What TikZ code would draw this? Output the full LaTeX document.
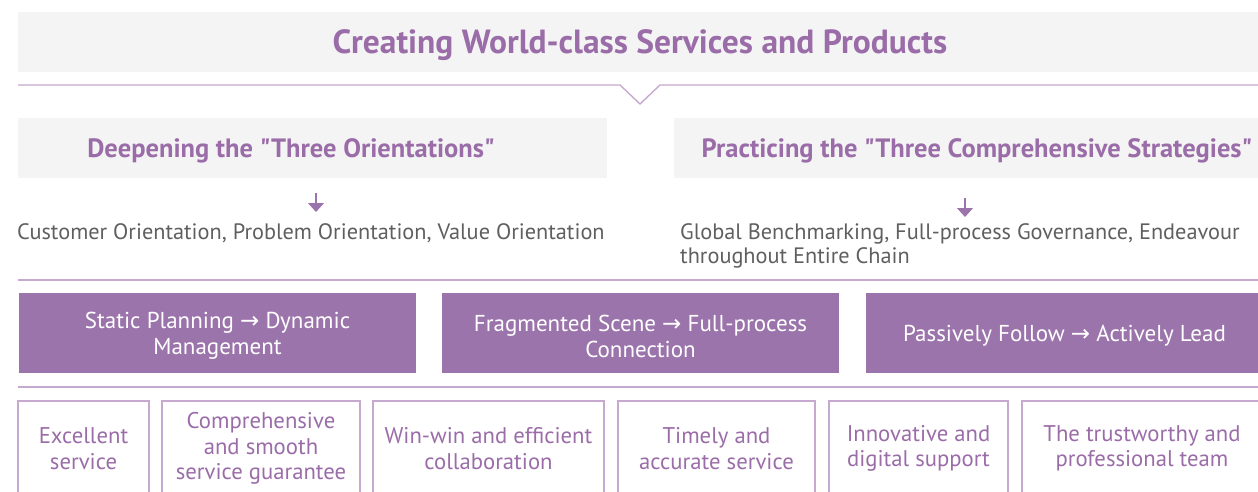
\documentclass[tikz,border=0pt]{standalone}
\usepackage{fontspec}
\setmainfont{PT Sans}[Ligatures=TeXOff]
\newfontfamily\arrowfont{DejaVu Sans}
\usetikzlibrary{arrows.meta}

\definecolor{plum}{HTML}{9B74AB}
\definecolor{plumtext}{HTML}{9A6CA8}
\definecolor{plumline}{HTML}{C6A9CE}
\definecolor{panel}{HTML}{F4F4F4}
\definecolor{bodygray}{HTML}{5F5F5F}

\newcommand{\goesto}{{\arrowfont\char"2192}}

\begin{document}
\begin{tikzpicture}[x=1pt, y=-1pt,
    panelbox/.style={fill=panel, draw=none, inner sep=0pt},
    heading/.style={text=plumtext, font=\fontsize{26.5}{30}\selectfont\bfseries},
    rule/.style={draw=plumline, line width=1.4pt},
    bodytext/.style={text=bodygray, font=\fontsize{22.3}{24.5}\selectfont, inner sep=0pt},
    shiftbox/.style={fill=plum, inner sep=0pt, minimum width=397pt, minimum height=80pt},
    shifttext/.style={text=white, align=center, inner sep=0pt, font=\fontsize{23}{26}\selectfont},
    goalbox/.style={draw=plumline, line width=1.3pt, text=plumtext, align=center, inner sep=0pt,
      minimum height=95pt, font=\fontsize{22.7}{25.5}\selectfont},
    pointer/.style={draw=plum, line width=1.2pt, -{Triangle[width=16pt, length=9pt]}}]
  \useasboundingbox (0,0) rectangle (1258,492);
  \clip (0,0) rectangle (1258,492);

  % top banner
  \node[panelbox, minimum width=1244pt, minimum height=60pt] (title) at (640,42) {};
  \node[heading, font=\fontsize{33.5}{37}\selectfont\bfseries] (titletext) at (640,45) {Creating World-class Services and Products};

  % rule with the notch under the banner
  \coordinate (ruleAL) at (18,85);
  \coordinate (ruleAR) at (1258,85);
  \coordinate (notchL) at (620,85);
  \coordinate (notchB) at (640,104);
  \coordinate (notchR) at (660,85);
  \draw[rule] (ruleAL) -- (notchL) -- (notchB) -- (notchR) -- (ruleAR);

  % the two headings
  \node[panelbox, minimum width=589pt, minimum height=60pt] (orientbox) at (312.5,148) {};
  \node[heading] at (291,151) {Deepening the "Three Orientations"};
  \node[panelbox, minimum width=588pt, minimum height=60pt] (strategybox) at (968,148) {};
  \node[heading] at (977,151) {Practicing the "Three Comprehensive Strategies"};

  \coordinate (orientfrom) at (316,193);
  \coordinate (orientto) at (316,212);
  \coordinate (strategyfrom) at (965,198);
  \coordinate (strategyto) at (965,217);
  \draw[pointer] (orientfrom) -- (orientto);
  \draw[pointer] (strategyfrom) -- (strategyto);

  \node[bodytext, anchor=west] (orienttext) at (17,233) {Customer Orientation, Problem Orientation, Value Orientation};
  \node[bodytext, anchor=north west, align=left] (strategytext) at (680,223)
    {Global Benchmarking, Full-process Governance, Endeavour\\throughout Entire Chain};

  \coordinate (ruleBL) at (18,280);
  \coordinate (ruleBR) at (1258,280);
  \draw[rule] (ruleBL) -- (ruleBR);

  % shifts
  \node[shiftbox] (shift1) at (217.5,333) {};
  \node[shiftbox] (shift2) at (640.5,333) {};
  \node[shiftbox] (shift3) at (1064.5,333) {};
  \node[shifttext] at ([yshift=-3pt]shift1.center) {Static Planning \goesto{} Dynamic\\Management};
  \node[shifttext] at ([yshift=-3pt]shift2.center) {Fragmented Scene \goesto{} Full-process\\Connection};
  \node[shifttext] at ([yshift=-3pt]shift3.center) {Passively Follow \goesto{} Actively Lead};

  \coordinate (ruleCL) at (18,387);
  \coordinate (ruleCR) at (1258,387);
  \draw[rule] (ruleCL) -- (ruleCR);

  % goals
  \node[goalbox, minimum width=131pt] (goal1) at (83.5,448.5) {Excellent\\service};
  \node[goalbox, minimum width=198pt] (goal2) at (261,448.5) {Comprehensive\\and smooth\\service guarantee};
  \node[goalbox, minimum width=231pt] (goal3) at (488.5,448.5) {Win-win and efficient\\collaboration};
  \node[goalbox, minimum width=197pt] (goal4) at (716.5,448.5) {Timely and\\accurate service};
  \node[goalbox, minimum width=179pt] (goal5) at (918.5,448.5) {Innovative and\\digital support};
  \node[goalbox, minimum width=240pt] (goal6) at (1142,448.5) {The trustworthy and\\professional team};
\end{tikzpicture}
\end{document}
